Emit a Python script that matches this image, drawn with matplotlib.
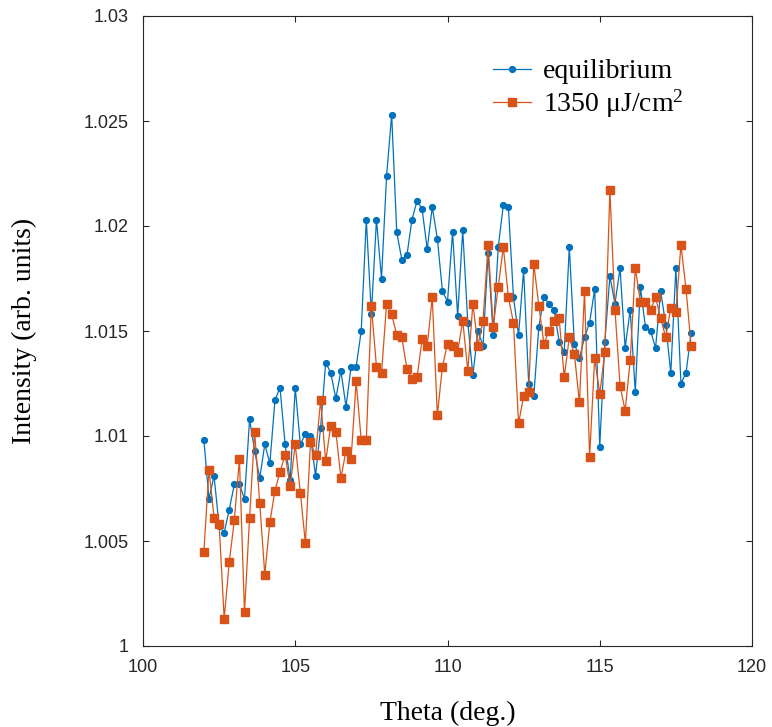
import numpy as np
import matplotlib
matplotlib.use("Agg")
import matplotlib.pyplot as plt

# scan grid: 102 -> 118 deg, 97 points
theta = np.linspace(102, 118, 97)

equilibrium = [
    1.0098, 1.0070, 1.0081, 1.0057, 1.0054, 1.0065, 1.0077, 1.0077, 1.0070, 1.0108,
    1.0093, 1.0080, 1.0096, 1.0087, 1.0117, 1.0123, 1.0096, 1.0079, 1.0123, 1.0096,
    1.0101, 1.0100, 1.0081, 1.0104, 1.0135, 1.0130, 1.0118, 1.0131, 1.0114, 1.0133,
    1.0133, 1.0150, 1.0203, 1.0158, 1.0203, 1.0175, 1.0224, 1.0253, 1.0197, 1.0184,
    1.0186, 1.0203, 1.0212, 1.0208, 1.0189, 1.0209, 1.0194, 1.0169, 1.0164, 1.0197,
    1.0157, 1.0198, 1.0154, 1.0129, 1.0150, 1.0143, 1.0187, 1.0148, 1.0190, 1.0210,
    1.0209, 1.0166, 1.0148, 1.0179, 1.0125, 1.0119, 1.0152, 1.0166, 1.0163, 1.0160,
    1.0145, 1.0140, 1.0190, 1.0144, 1.0137, 1.0147, 1.0154, 1.0170, 1.0095, 1.0145,
    1.0176, 1.0163, 1.0180, 1.0142, 1.0160, 1.0121, 1.0171, 1.0152, 1.0150, 1.0142,
    1.0169, 1.0153, 1.0130, 1.0180, 1.0125, 1.0130, 1.0149,
]

pumped = [
    1.0045, 1.0084, 1.0061, 1.0058, 1.0013, 1.0040, 1.0060, 1.0089, 1.0016, 1.0061,
    1.0102, 1.0068, 1.0034, 1.0059, 1.0074, 1.0083, 1.0091, 1.0076, 1.0096, 1.0073,
    1.0049, 1.0097, 1.0091, 1.0117, 1.0088, 1.0105, 1.0102, 1.0080, 1.0093, 1.0089,
    1.0126, 1.0098, 1.0098, 1.0162, 1.0133, 1.0130, 1.0163, 1.0158, 1.0148, 1.0147,
    1.0132, 1.0127, 1.0128, 1.0146, 1.0143, 1.0166, 1.0110, 1.0133, 1.0144, 1.0143,
    1.0140, 1.0155, 1.0131, 1.0163, 1.0143, 1.0155, 1.0191, 1.0152, 1.0171, 1.0190,
    1.0166, 1.0154, 1.0106, 1.0119, 1.0121, 1.0182, 1.0162, 1.0144, 1.0150, 1.0155,
    1.0156, 1.0128, 1.0147, 1.0139, 1.0116, 1.0169, 1.0090, 1.0137, 1.0120, 1.0140,
    1.0217, 1.0160, 1.0124, 1.0112, 1.0136, 1.0180, 1.0164, 1.0164, 1.0160, 1.0166,
    1.0156, 1.0147, 1.0161, 1.0159, 1.0191, 1.0170, 1.0143,
]

xticks = [100, 105, 110, 115, 120]
yticks = [1.0, 1.005, 1.01, 1.015, 1.02, 1.025, 1.03]
ytick_labels = ["1", "1.005", "1.01", "1.015", "1.02", "1.025", "1.03"]

plt.rcParams["mathtext.fontset"] = "custom"
plt.rcParams["mathtext.rm"] = "Liberation Serif"
plt.rcParams["mathtext.it"] = "Liberation Serif:italic"

fig = plt.figure(figsize=(7.72, 7.27), dpi=100)
ax = fig.add_axes([143 / 772, 1 - 646 / 727, 609 / 772, 630 / 727])

ax.plot(theta, equilibrium, color="#0072BD", lw=0.9, marker="o", ms=4.2,
        label="equilibrium")
ax.plot(theta, pumped, color="#D95319", lw=0.9, marker="s", ms=5.2,
        label="1350 μJ/cm$^{2}$")

ax.set_xlim(100, 120)
ax.set_ylim(1.0, 1.03)
ax.set_xticks(xticks)
ax.set_yticks(yticks)
ax.set_yticklabels(ytick_labels)

ax.tick_params(axis="both", direction="in", length=4, width=0.8,
               top=True, right=True, color="#262626",
               labelsize=13, labelcolor="#262626",
               labelfontfamily="Liberation Sans")
ax.tick_params(axis="x", pad=9)
ax.tick_params(axis="y", pad=10)
for sp in ax.spines.values():
    sp.set_color("#262626")
    sp.set_linewidth(0.8)

ax.set_xlabel("Theta (deg.)", family="Liberation Serif", fontsize=20)
ax.set_ylabel("Intensity (arb. units)", family="Liberation Serif", fontsize=20)
ax.xaxis.set_label_coords(0.5, -0.087)
ax.yaxis.set_label_coords(-0.174, 0.5)

leg = ax.legend(loc="upper left", bbox_to_anchor=(0.575, 0.932), frameon=False,
                prop={"family": "Liberation Serif", "size": 20},
                handlelength=1.35, handletextpad=0.45, labelspacing=0.12,
                borderpad=0, borderaxespad=0)

fig.savefig("out.png", dpi=100)
